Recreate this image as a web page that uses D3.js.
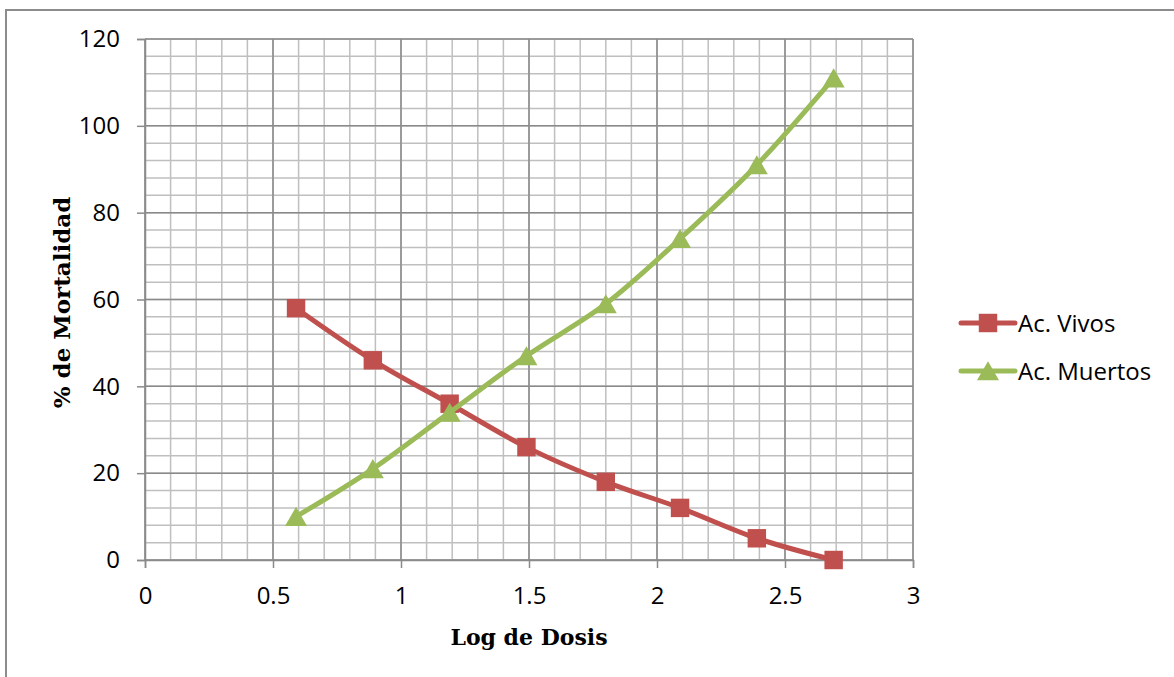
<!DOCTYPE html>
<html lang="en">
<head>
    <meta charset="UTF-8">
    <title>% de Mortalidad</title>
    <script src="https://d3js.org/d3.v7.min.js"></script>
    <style>
        body { margin: 0; background: #fff; }
        svg { display: block; }
    </style>
</head>
<body>
    <svg id="chart"></svg>
    <script>
        const width = 1174;
        const height = 677;

        // data
        const logDosis = [0.59, 0.89, 1.19, 1.49, 1.80, 2.09, 2.39, 2.69];
        const vivos = [58, 46, 36, 26, 18, 12, 5, 0];
        const muertos = [10, 21, 34, 47, 59, 74, 91, 111];
        const xTicks = [0, 0.5, 1, 1.5, 2, 2.5, 3];
        const yTicks = [0, 20, 40, 60, 80, 100, 120];
        const seriesNames = ["Ac. Vivos", "Ac. Muertos"];
        const colors = ["#c0504d", "#9bbb59"];

        const plot = {left: 145, right: 913, top: 39, bottom: 560};
        const labelFont = "'Open Sans', 'Noto Sans', sans-serif";
        const titleFont = "'DejaVu Serif', serif";

        const svg = d3.select("#chart")
            .attr("width", width)
            .attr("height", height)
            .attr("viewBox", [0, 0, width, height]);

        // chart frame
        svg.append("rect")
            .attr("x", 6).attr("y", 10)
            .attr("width", width + 20).attr("height", height + 20)
            .attr("fill", "none")
            .attr("stroke", "#8c8c8c")
            .attr("stroke-width", 2);

        const x = d3.scaleLinear().domain([0, 3]).range([plot.left, plot.right]);
        const y = d3.scaleLinear().domain([0, 120]).range([plot.bottom, plot.top]);

        // minor grid
        const g = svg.append("g");
        g.selectAll(".vminor")
            .data(d3.range(0, 31).map(i => i / 10))
            .join("line")
            .attr("x1", d => x(d)).attr("x2", d => x(d))
            .attr("y1", plot.top).attr("y2", plot.bottom)
            .attr("stroke", "#bfbfbf").attr("stroke-width", 1.5);
        g.selectAll(".hminor")
            .data(d3.range(0, 31).map(i => i * 4))
            .join("line")
            .attr("x1", plot.left).attr("x2", plot.right)
            .attr("y1", d => y(d)).attr("y2", d => y(d))
            .attr("stroke", "#bfbfbf").attr("stroke-width", 1.5);

        // major grid
        g.selectAll(".vmajor")
            .data(xTicks)
            .join("line")
            .attr("x1", d => x(d)).attr("x2", d => x(d))
            .attr("y1", plot.top).attr("y2", plot.bottom)
            .attr("stroke", "#8a8a8a").attr("stroke-width", 1.5);
        g.selectAll(".hmajor")
            .data(yTicks)
            .join("line")
            .attr("x1", plot.left).attr("x2", plot.right)
            .attr("y1", d => y(d)).attr("y2", d => y(d))
            .attr("stroke", "#8a8a8a").attr("stroke-width", 1.5);

        // axes
        const xAxis = svg.append("g")
            .attr("transform", `translate(0,${plot.bottom})`)
            .call(d3.axisBottom(x).tickValues(xTicks).tickSize(8).tickPadding(19).tickFormat(d3.format("")));
        const yAxis = svg.append("g")
            .attr("transform", `translate(${plot.left},0)`)
            .call(d3.axisLeft(y).tickValues(yTicks).tickSize(8).tickPadding(17));
        [xAxis, yAxis].forEach(a => {
            a.attr("font-size", null).attr("font-family", null);
            a.select(".domain").attr("stroke", "#8a8a8a").attr("stroke-width", 1.5);
            a.selectAll(".tick line").attr("stroke", "#8a8a8a").attr("stroke-width", 1.5);
            a.selectAll(".tick text")
                .attr("fill", "#000")
                .style("font-family", labelFont)
                .style("font-size", "24px");
        });

        // axis titles
        svg.append("text")
            .attr("x", (plot.left + plot.right) / 2)
            .attr("y", 645)
            .attr("text-anchor", "middle")
            .style("font-family", titleFont)
            .style("font-weight", "bold")
            .style("font-size", "22px")
            .text("Log de Dosis");
        svg.append("text")
            .attr("transform", `translate(70,${(plot.top + plot.bottom) / 2 + 3}) rotate(-90)`)
            .attr("text-anchor", "middle")
            .style("font-family", titleFont)
            .style("font-weight", "bold")
            .style("font-size", "23px")
            .text("% de Mortalidad");

        // series
        const series = [vivos, muertos].map((vals, i) => ({
            name: seriesNames[i],
            color: colors[i],
            points: logDosis.map((d, j) => [d, vals[j]])
        }));

        const line = d3.line()
            .x(d => x(d[0])).y(d => y(d[1]))
            .curve(d3.curveCatmullRom.alpha(0));

        const sq = d3.symbol().type(d3.symbolSquare).size(340);
        const tri = d3.symbol().type(d3.symbolTriangle).size(210);
        const shapes = [sq, tri];
        const shift = [0, 3];

        series.forEach((s, i) => {
            svg.append("path")
                .attr("d", line(s.points))
                .attr("fill", "none")
                .attr("stroke", s.color)
                .attr("stroke-width", 5)
                .attr("stroke-linejoin", "round");
            svg.append("g")
                .selectAll("path")
                .data(s.points)
                .join("path")
                .attr("transform", d => `translate(${x(d[0])},${y(d[1]) + shift[i]})`)
                .attr("d", shapes[i]())
                .attr("fill", s.color);
        });

        // legend
        const legend = svg.append("g");
        series.forEach((s, i) => {
            const ly = 323 + i * 48;
            legend.append("line")
                .attr("x1", 961).attr("x2", 1015)
                .attr("y1", ly).attr("y2", ly)
                .attr("stroke", s.color)
                .attr("stroke-width", 5)
                .attr("stroke-linecap", "round");
            legend.append("path")
                .attr("transform", `translate(988,${ly + shift[i]})`)
                .attr("d", shapes[i]())
                .attr("fill", s.color);
            legend.append("text")
                .attr("x", 1018)
                .attr("y", ly + 9)
                .style("font-family", labelFont)
                .style("font-size", "24px")
                .text(s.name);
        });
    </script>
</body>
</html>
